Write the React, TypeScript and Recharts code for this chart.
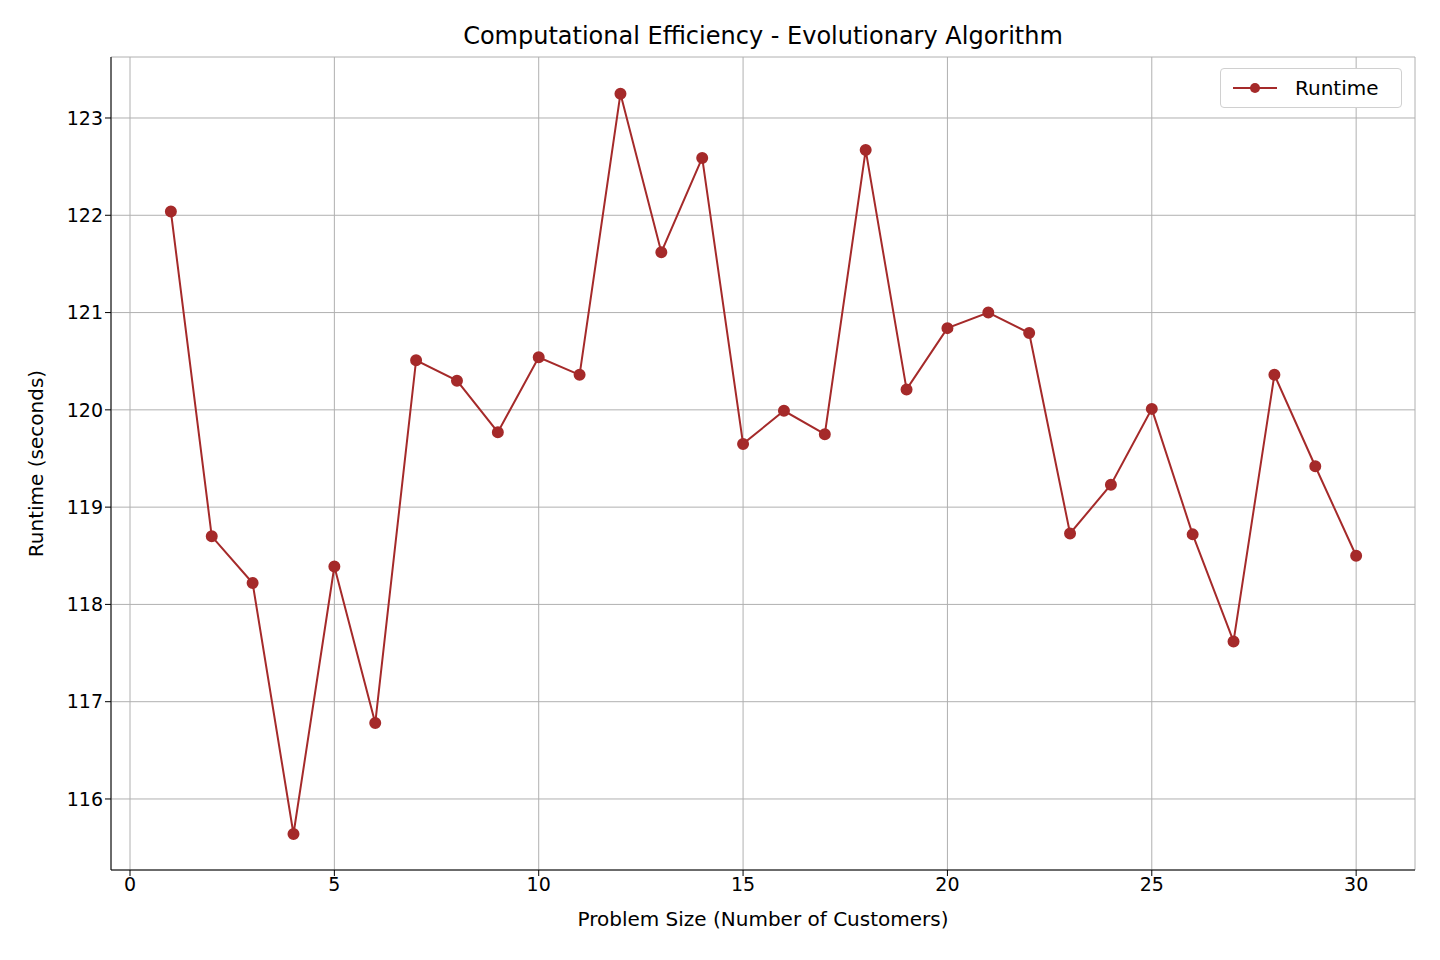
import { LineChart, Line, XAxis, YAxis, CartesianGrid, Label } from 'recharts';

const sizes = [1, 2, 3, 4, 5, 6, 7, 8, 9, 10, 11, 12, 13, 14, 15, 16, 17, 18, 19, 20, 21, 22, 23, 24, 25, 26, 27, 28, 29, 30];
const runtimes = [
  122.04, 118.7, 118.22, 115.64, 118.39, 116.78, 120.51, 120.3, 119.77, 120.54,
  120.36, 123.25, 121.62, 122.59, 119.65, 119.99, 119.75, 122.67, 120.21, 120.84,
  121.0, 120.79, 118.73, 119.23, 120.01, 118.72, 117.62, 120.36, 119.42, 118.5,
];
const xTicks = [0, 5, 10, 15, 20, 25, 30];
const yTicks = [116, 117, 118, 119, 120, 121, 122, 123];

const data = sizes.map((s, i) => ({ size: s, runtime: runtimes[i] }));
const color = '#a52a2a';
const font = 'DejaVu Sans, sans-serif';

export default function App() {
  return (
    <div style={{ position: 'absolute', left: 0, top: 0, width: 1440, height: 960, background: '#fff', fontFamily: font }}>
      <div style={{ position: 'absolute', top: 22, width: 1526, textAlign: 'center', fontSize: 24, color: '#000' }}>
        Computational Efficiency - Evolutionary Algorithm
      </div>
      <LineChart width={1440} height={960} data={data} margin={{ top: 57, right: 25, bottom: 40, left: 21 }}>
        <CartesianGrid stroke="#b0b0b0" strokeWidth={1} />
        <XAxis
          dataKey="size"
          type="number"
          domain={[-0.465, 31.44]}
          ticks={xTicks}
          allowDataOverflow
          stroke="#000"
          tick={{ fontSize: 19, fill: '#000' }}
          tickSize={6}
          height={50}
        >
          <Label value="Problem Size (Number of Customers)" position="insideBottom" offset={-6} style={{ fontSize: 20, fill: '#000' }} />
        </XAxis>
        <YAxis
          type="number"
          domain={[115.27, 123.627]}
          ticks={yTicks}
          allowDataOverflow
          stroke="#000"
          tick={{ fontSize: 19, fill: '#000' }}
          tickSize={6}
          width={90}
        >
          <Label value="Runtime (seconds)" angle={-90} position="insideLeft" offset={15} style={{ fontSize: 20, fill: '#000', textAnchor: 'middle' }} />
        </YAxis>
        <Line
          dataKey="runtime"
          name="Runtime"
          stroke={color}
          strokeWidth={2}
          dot={{ r: 5, fill: color, stroke: color }}
          isAnimationActive={false}
        />
      </LineChart>
      <div style={{
        position: 'absolute', top: 68, left: 1220, width: 182, height: 40, boxSizing: 'border-box',
        border: '1px solid #d0d0d0', borderRadius: 4, background: '#fff',
        display: 'flex', alignItems: 'center', fontSize: 20, color: '#000',
      }}>
        <svg width={60} height={20} style={{ marginLeft: 6 }}>
          <line x1={6} y1={10} x2={50} y2={10} stroke={color} strokeWidth={2} />
          <circle cx={28} cy={10} r={5} fill={color} />
        </svg>
        <span style={{ marginLeft: 8 }}>Runtime</span>
      </div>
    </div>
  );
}
